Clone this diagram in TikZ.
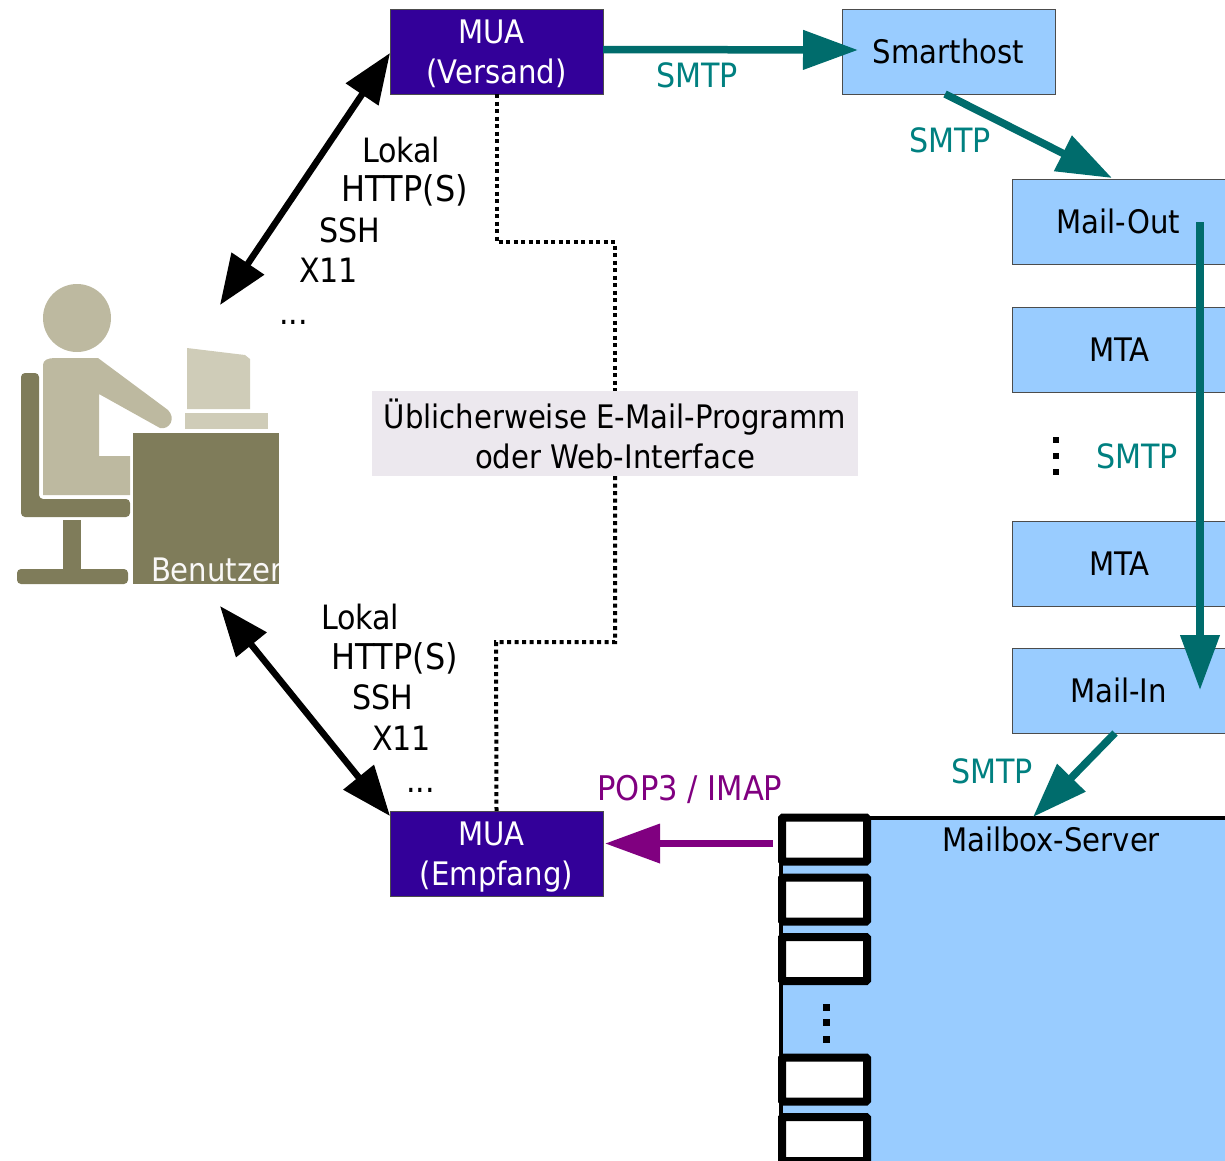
\documentclass[tikz,border=0pt]{standalone}
\usepackage{fontspec}
\setmainfont{DejaVu Sans Condensed}
\usetikzlibrary{arrows.meta}
\definecolor{boxblue}{HTML}{99CCFF}
\definecolor{muablue}{HTML}{330099}
\definecolor{teal1}{HTML}{006C6C}
\definecolor{teal2}{HTML}{008080}
\definecolor{purp}{HTML}{800080}
\definecolor{olive1}{HTML}{7F7C5A}
\definecolor{tan1}{HTML}{BDB9A0}
\definecolor{tan2}{HTML}{CFCCB8}
\definecolor{notebg}{HTML}{ECE8EE}
\tikzset{
 x=1pt,y=-1pt,
 every node/.style={font=\fontsize{32.4}{40}\selectfont,inner sep=0pt,outer sep=0pt,align=center},
 bluebox/.style={draw=black!70,line width=1pt,fill=boxblue,minimum width=213pt,minimum height=85pt,anchor=north west,text=black},
 muabox/.style={draw=black!70,line width=.6pt,fill=muablue,minimum width=213pt,minimum height=85pt,anchor=north west,text=white},
 slot/.style={draw=black,line width=8pt,fill=white,rounded corners=1pt,minimum width=85pt,minimum height=44pt},
 tealarrow/.style={draw=teal1,line width=7.5pt,-{Triangle[length=55pt,width=38pt,fill=teal1]}},
 purparrow/.style={draw=purp,line width=7pt,-{Triangle[length=55pt,width=38pt,fill=purp]}},
 blackarrow/.style={draw=black,line width=6.5pt,{Triangle[length=50pt,width=38pt]}-{Triangle[length=50pt,width=38pt]}},
 dotline/.style={draw=black,line width=4pt,dash pattern=on 4pt off 3.5pt},
 proto/.style={text=teal2,font=\fontsize{33.5}{40}\selectfont},
 lab/.style={text=black,anchor=west,font=\fontsize{33.5}{40}\selectfont},
 labw/.style={text=black,anchor=west,font=\fontsize{35.5}{40}\selectfont},
}
\begin{document}
\begin{tikzpicture}
\useasboundingbox (0,0) rectangle (1225,1160);
\clip (0,0) rectangle (1225,1160);
% User figure
\fill[tan1] (77,318) circle (34);
\fill[olive1,rounded corners=4pt] (21,373) -- (39,373) -- (39,499) -- (130,499) -- (130,517) -- (21,517) -- cycle;
\fill[olive1] (63,520) rectangle (81,570);
\fill[olive1,rounded corners=4pt] (17,569) rectangle (128,584);
\fill[tan1] (43,495) -- (43,365) .. controls (43,360) and (48,358) .. (55,358) -- (98,358) -- (168,410) .. controls (176,418) and (170,430) .. (160,428) -- (99,394) -- (99,456) -- (130,456) -- (130,495) -- cycle;
\fill[tan2] (187,348) -- (245,355) -- (250,359) -- (250,409) -- (187,409) -- cycle;
\fill[tan2] (185,413) rectangle (268,429);
\fill[olive1] (133,433) rectangle (279,584);
\node[text=white!95!olive1,anchor=south west,font=\fontsize{32.4}{36}\selectfont] (user) at (151,582) {Benutzer};
\fill[white] (279,540) rectangle (300,590);
\coordinate (userup) at (220,305);
\coordinate (userdown) at (220,606);
% Boxes
\node[muabox] (muav) at (390,9) {\rule{0pt}{29pt}\hspace*{-10pt}MUA\\(Versand)};
\node[muabox] (muae) at (390,811) {\rule{0pt}{30pt}\hspace*{-10pt}MUA\\(Empfang)};
\node[bluebox] (smart) at (842,9) {Smarthost};
\node[bluebox,minimum width=230pt] (mout) at (1012,179) {\hspace*{-17pt}Mail-Out};
\node[bluebox,minimum width=230pt] (mta1) at (1012,307) {\hspace*{-15pt}MTA};
\node[bluebox,minimum width=230pt] (mta2) at (1012,521) {\hspace*{-15pt}MTA};
\node[bluebox,minimum width=230pt] (min) at (1012,648) {\hspace*{-17pt}Mail-In};
% Mailbox server
\node[draw=black,line width=3.5pt,fill=boxblue,minimum width=460pt,minimum height=345pt,anchor=north west] (mbox) at (781,818) {};
\node[text=black] (mboxt) at (1051,839) {Mailbox-Server};
\node[slot] (s1) at (824.5,839.5) {};
\node[slot] (s2) at (824.5,899.5) {};
\node[slot] (s3) at (824.5,959) {};
\node[slot] (s4) at (824.5,1079.5) {};
\node[slot] (s5) at (824.5,1139) {};
\foreach \d in {1007,1022,1039} \fill[black] (822.5,\d-3.5) rectangle ++(7,7);
% dots between MTAs
\foreach \d in {439,455,471} \fill[black] (1052.5,\d-2.5) rectangle ++(6,6);
% Note
\node[fill=notebg,text=black,minimum width=486pt,minimum height=85pt] (note) at (615,433.5) {Üblicherweise E-Mail-Programm\\oder Web-Interface};
% Dotted
\draw[dotline] (muav.south) -- ++(0,148) -| (note.north);
\draw[dotline] (note.south) |- (496,642) -- (muae.north);
% Arrows
\coordinate (muavout) at (603,49.5);
\coordinate (smartin) at (858,50);
\draw[tealarrow] (muavout) -- (smartin);
\coordinate (smartout) at (945,94);
\coordinate (moutin) at (1112,178);
\draw[tealarrow] (smartout) -- (moutin);
\coordinate (moutv) at (1200,222);
\coordinate (minv) at (1200,690);
\draw[tealarrow] (moutv) -- (minv);
\coordinate (minout) at (1115,733);
\coordinate (mboxin) at (1033,817);
\draw[tealarrow] (minout) -- (mboxin);
\coordinate (pstart) at (773,843.5);
\draw[purparrow] (pstart) -- (605,843.5);
\draw[blackarrow] (userup) -- (390,53);
\draw[blackarrow] (userdown) -- (390,816);
% Labels
\node[proto] (l1) at (697,75) {SMTP};
\node[proto] (l2) at (950,140) {SMTP};
\node[proto] (l3) at (1137,456) {SMTP};
\node[proto] (l4) at (992,771) {SMTP};
\node[text=purp,font=\fontsize{34}{40}\selectfont] (l5) at (690,789) {POP3 / IMAP};
\node[lab] (a1) at (362,150) {Lokal};
\node[labw] (a2) at (341,190) {HTTP(S)};
\node[lab] (a3) at (319,230) {SSH};
\node[lab] (a4) at (299,270) {X11};
\node[lab] (a5) at (279,322) {...};
\node[lab] (b1) at (321,617) {Lokal};
\node[labw] (b2) at (331,658) {HTTP(S)};
\node[lab] (b3) at (352,697) {SSH};
\node[lab] (b4) at (372,738) {X11};
\node[lab] (b5) at (406,790) {...};
\end{tikzpicture}
\end{document}
